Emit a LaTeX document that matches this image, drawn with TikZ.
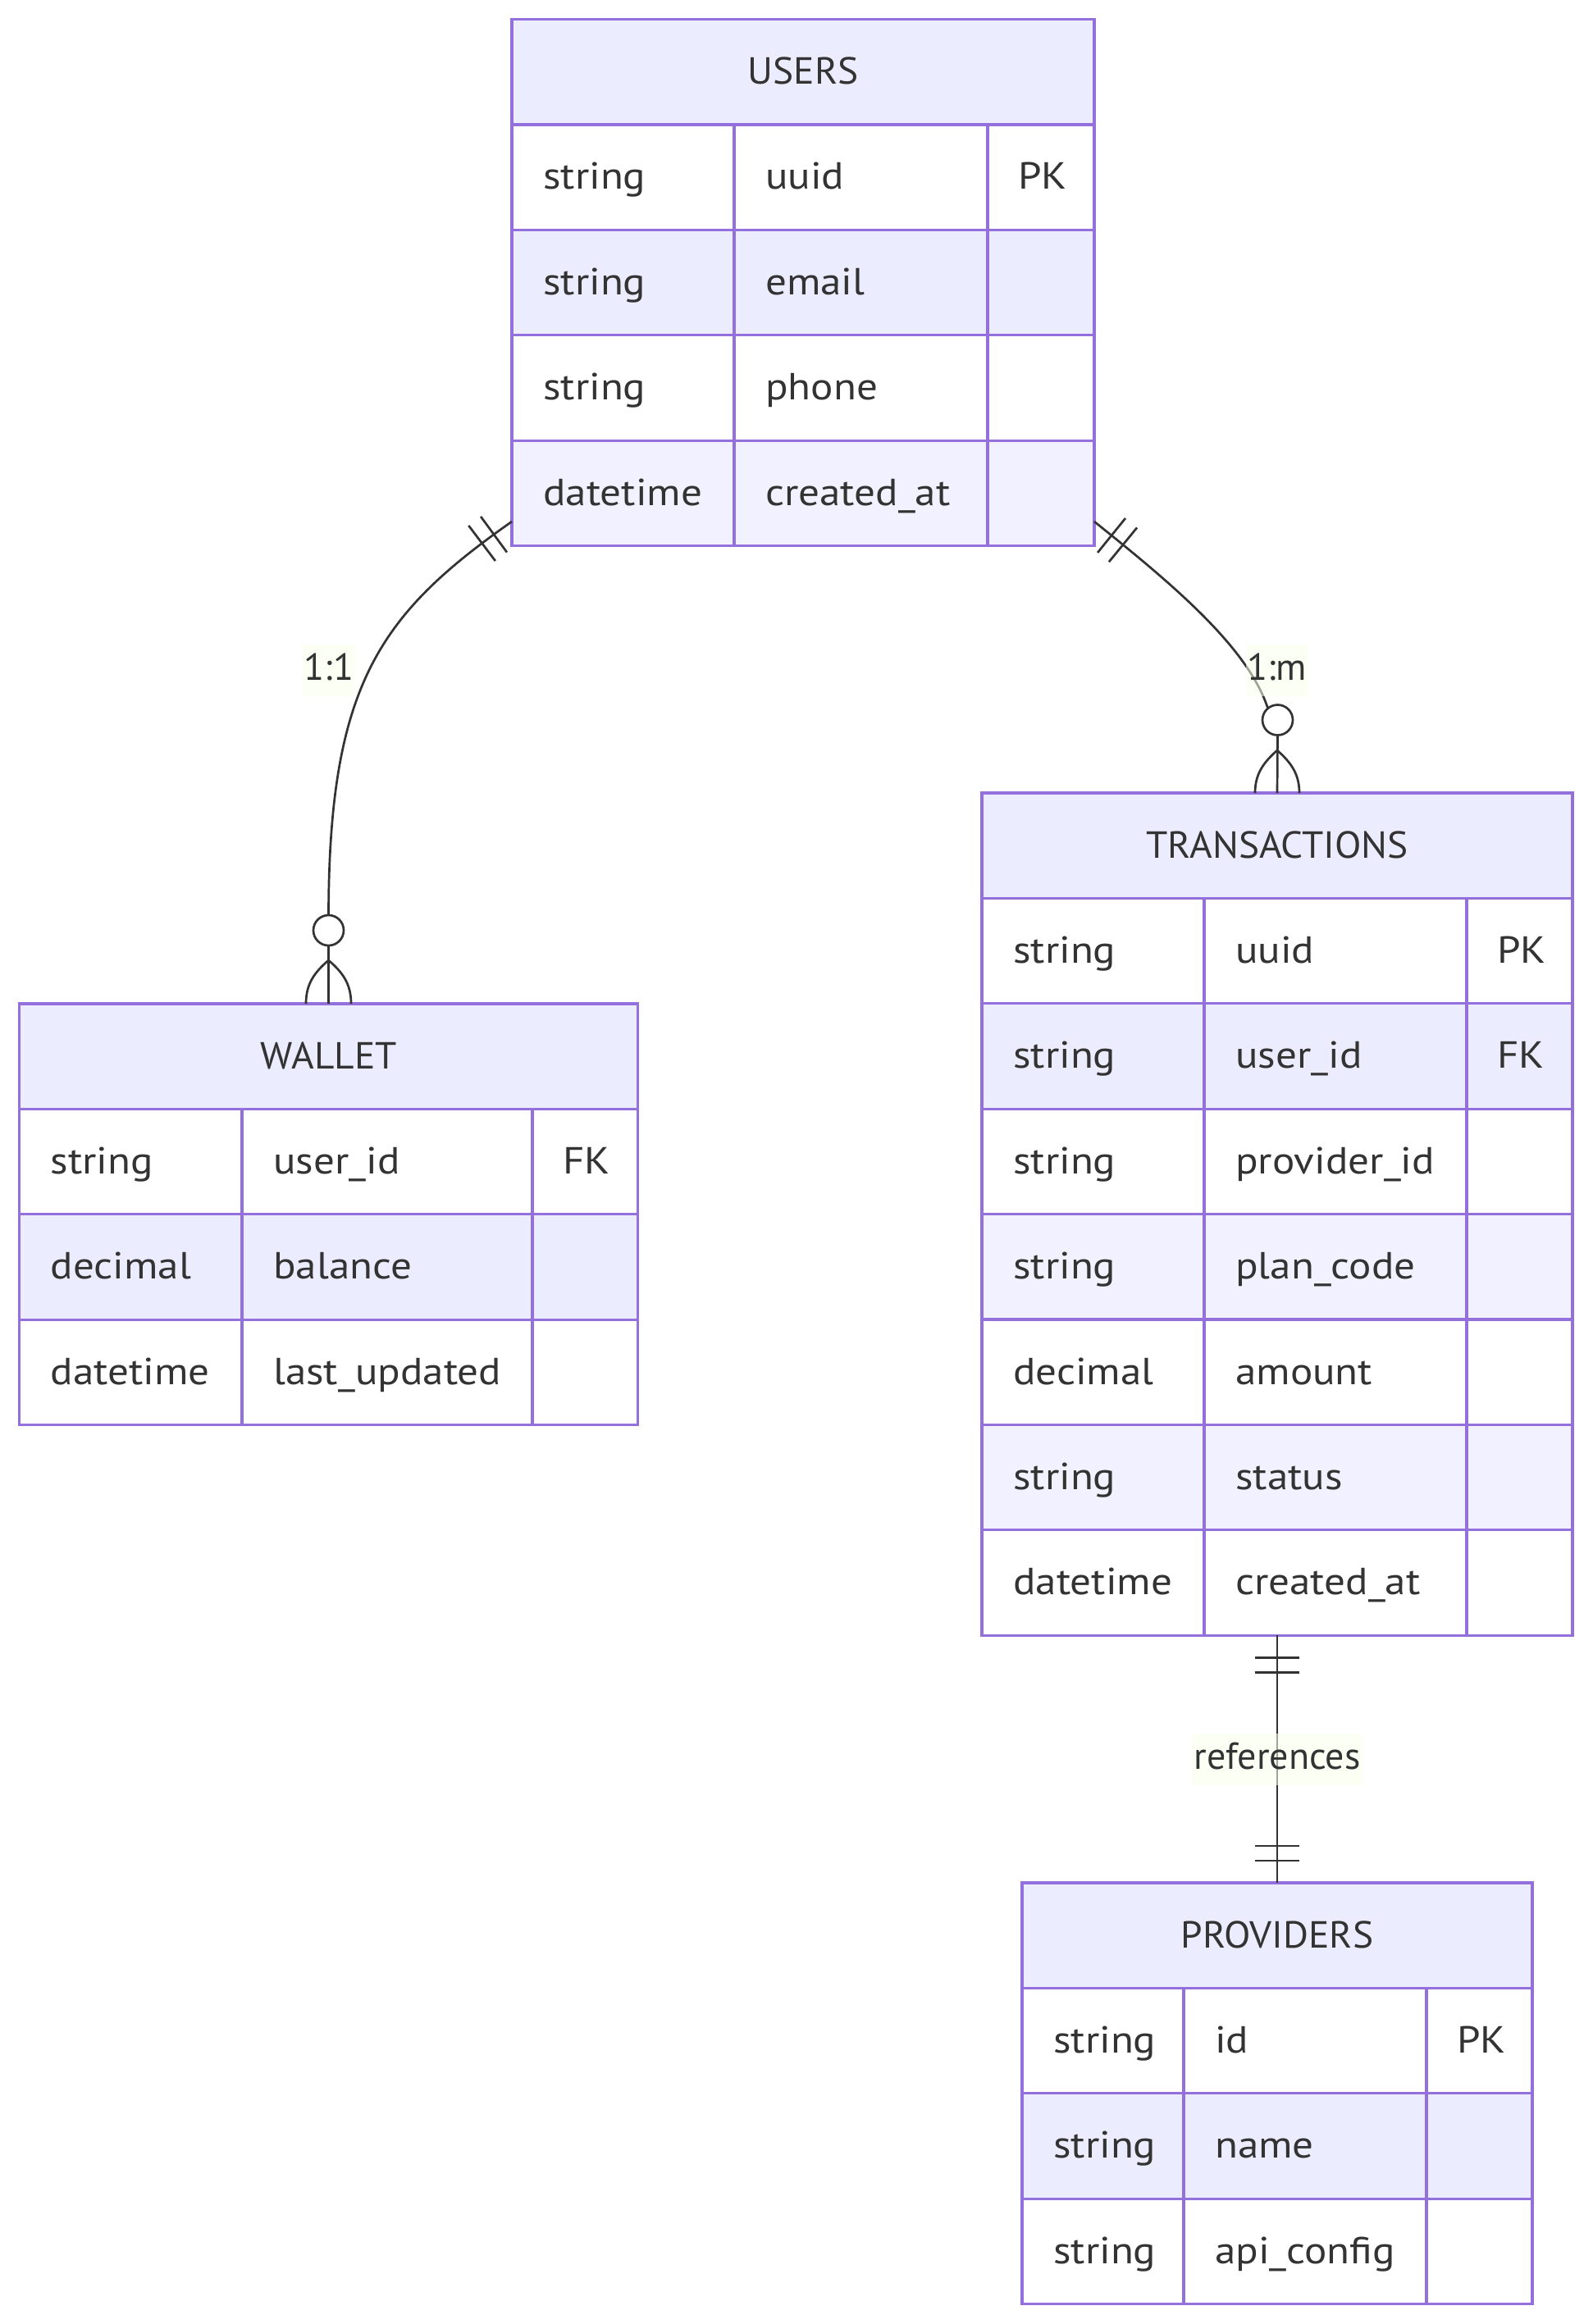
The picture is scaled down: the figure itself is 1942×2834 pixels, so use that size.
\documentclass[tikz,border=0pt]{standalone}
\usepackage{fontspec}
\setmainfont{PT Sans}
\newfontfamily\erattrfont[FakeStretch=1.11]{PT Sans}
\newfontfamily\ertitlefont[FakeStretch=1.03]{PT Sans}
\usetikzlibrary{decorations.markings,calc}
\definecolor{erpurple}{HTML}{9370DB}
\definecolor{erhead}{HTML}{ECECFF}
\definecolor{eralt}{HTML}{F1F1FF}
\definecolor{ertext}{HTML}{333333}
\definecolor{lblbg}{HTML}{F9FFEC}
\newcommand\erfs{\fontsize{46}{55}\selectfont}
\newcommand\ersettable[5]{\def\tbx{#1}\def\tbca{#2}\def\tbcb{#3}\def\tbxe{#4}\def\tby{#5}}
\newcommand\erheader[2]{%
  \fill[erhead] (\tbx,\tby) rectangle (\tbxe,\tby+128.4);
  \node[ttl] (#1) at ({(\tbx+\tbxe)/2},\tby+79) {#2};
}
\newcommand\errow[6]{%
  \pgfmathsetmacro\rowt{\tby+128.4*#2}%
  \pgfmathsetmacro\rowb{\rowt+128.4}%
  \pgfmathsetmacro\rowbl{\rowt+79}%
  \fill[#3] (\tbx,\rowt) rectangle (\tbxe,\rowb);
  \draw[gridline] (\tbx,\rowt) -- (\tbxe,\rowt);
  \draw[gridline] (\tbca,\rowt) -- (\tbca,\rowb) (\tbcb,\rowt) -- (\tbcb,\rowb);
  \node[attr] (#1-t) at (\tbx+38,\rowbl) {#4};
  \node[attr] (#1-n) at (\tbca+38,\rowbl) {#5};
  \node[attr] (#1-k) at (\tbcb+37,\rowbl) {#6};
}
\tikzset{
  gridline/.style={draw=erpurple, line width=3.2pt},
  tblbox/.style={draw=erpurple, line width=3.2pt, rectangle, inner sep=0pt, outer sep=0pt},
  attr/.style={anchor=base west, inner sep=0pt, text=ertext, font=\erattrfont\erfs},
  ttl/.style={anchor=base, inner sep=0pt, text=ertext, font=\ertitlefont\erfs},
  rel/.style={draw=ertext, line width=2.7pt},
  optcircle/.style={circle, draw=ertext, line width=2.7pt, fill=white, minimum size=37pt, inner sep=0pt, outer sep=0pt},
  lbl/.style={fill=lblbg, fill opacity=0.55, text opacity=1, text=ertext, font=\erfs, inner xsep=2pt, inner ysep=19.5pt, text height=24pt, text depth=0pt},
  tickstart/.style={postaction={decorate}, decoration={markings,
     mark=at position 27pt with {\draw[rel] (0,-27) -- (0,27);},
     mark=at position 45pt with {\draw[rel] (0,-27) -- (0,27);}}},
  tickboth/.style={postaction={decorate}, decoration={markings,
     mark=at position 27pt with {\draw[rel] (0,-27) -- (0,27);},
     mark=at position 45pt with {\draw[rel] (0,-27) -- (0,27);},
     mark=at position -45pt with {\draw[rel] (0,-27) -- (0,27);},
     mark=at position -27pt with {\draw[rel] (0,-27) -- (0,27);}}}
}
\begin{document}
\begin{tikzpicture}[x=1pt,y=-1pt]
\useasboundingbox[fill=white] (0,0) rectangle (1942,2834);

% USERS
\ersettable{624}{895}{1204}{1334}{23.5}
\erheader{users-title}{USERS}
\errow{u1}{1}{white}{string}{uuid}{PK}
\errow{u2}{2}{erhead}{string}{email}{}
\errow{u3}{3}{white}{string}{phone}{}
\errow{u4}{4}{eralt}{datetime}{created\_at}{}
\node[tblbox, minimum width=710pt, minimum height=642pt] (users) at (979,344.5) {};

% WALLET
\ersettable{23.5}{295}{649}{777.5}{1224}
\erheader{wallet-title}{WALLET}
\errow{w1}{1}{white}{string}{user\_id}{FK}
\errow{w2}{2}{erhead}{decimal}{balance}{}
\errow{w3}{3}{white}{datetime}{last\_updated}{}
\node[tblbox, minimum width=754pt, minimum height=513.6pt] (wallet) at (400.5,1480.8) {};

% TRANSACTIONS
\ersettable{1197}{1468}{1788}{1917}{967}
\erheader{transactions-title}{TRANSACTIONS}
\errow{t1}{1}{white}{string}{uuid}{PK}
\errow{t2}{2}{erhead}{string}{user\_id}{FK}
\errow{t3}{3}{white}{string}{provider\_id}{}
\errow{t4}{4}{eralt}{string}{plan\_code}{}
\errow{t5}{5}{white}{decimal}{amount}{}
\errow{t6}{6}{eralt}{string}{status}{}
\errow{t7}{7}{white}{datetime}{created\_at}{}
\node[tblbox, minimum width=720pt, minimum height=1027.2pt] (transactions) at (1557,1480.6) {};

% PROVIDERS
\ersettable{1246}{1443}{1739}{1868}{2296}
\erheader{providers-title}{PROVIDERS}
\errow{p1}{1}{white}{string}{id}{PK}
\errow{p2}{2}{erhead}{string}{name}{}
\errow{p3}{3}{white}{string}{api\_config}{}
\node[tblbox, minimum width=622pt, minimum height=513.6pt] (providers) at (1557,2552.8) {};

% USERS -> WALLET
\node[optcircle] (o1) at (400.5,1134.5) {};
\coordinate (cf1) at (400.5,1171);
\draw[rel, tickstart] ($(users.south west)+(0,-29.5)$) .. controls (463,749) and (401,835) .. (o1.north);
\draw[rel] (o1.south) -- (wallet.north);
\draw[rel] (cf1) .. controls (383,1186) and (373,1200) .. (373,1224);
\draw[rel] (cf1) .. controls (418,1186) and (428,1200) .. (428,1224);

% USERS -> TRANSACTIONS
\node[optcircle] (o2) at (1557.5,878) {};
\coordinate (cf2) at (1557,915);
\draw[rel, tickstart] ($(users.south east)+(0,-29.5)$) .. controls (1425,709) and (1521,788) .. (o2.130);
\draw[rel] (o2.south) -- (transactions.north);
\draw[rel] (cf2) .. controls (1540,930) and (1530,944) .. (1530,967);
\draw[rel] (cf2) .. controls (1574,930) and (1584,944) .. (1584,967);

% TRANSACTIONS -> PROVIDERS
\draw[rel, tickboth] (transactions.south) -- (providers.north);

% labels
\node[lbl] (l11) at (401,817) {1:1};
\node[lbl] (l1m) at (1557,817) {1:m};
\node[lbl] (lref) at (1557,2145) {references};
\end{tikzpicture}
\end{document}
